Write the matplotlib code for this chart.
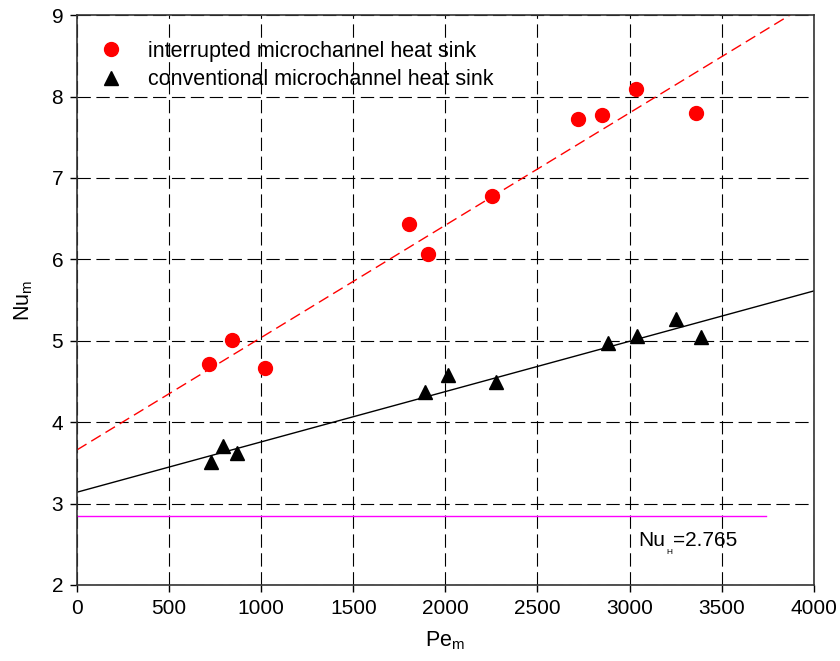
import numpy as np
import matplotlib.pyplot as plt

plt.rcParams['font.family'] = ['Liberation Sans', 'DejaVu Sans']

# interrupted microchannel heat sink
pe_int = [716, 841, 1020, 1802, 1905, 2252, 2719, 2849, 3034, 3360]
nu_int = [4.72, 5.01, 4.665, 6.43, 6.065, 6.78, 7.72, 7.78, 8.09, 7.80]

# conventional microchannel heat sink
pe_conv = [727, 792, 868, 1889, 2013, 2274, 2882, 3039, 3251, 3387]
nu_conv = [3.51, 3.71, 3.62, 4.37, 4.58, 4.49, 4.97, 5.06, 5.27, 5.05]

# fitted lines (intercept, slope)
fit_int = (3.66, 0.00138)
fit_conv = (3.14, 0.000618)

nu_h = 2.85
nu_h_end = 3740

fig = plt.figure(figsize=(8.4, 6.61), dpi=100)
ax = fig.add_axes([0.0917, 0.115, 0.877, 0.862])

xx = np.array([0, 4000])
ax.plot(xx, fit_int[0] + fit_int[1] * xx, color='red', lw=1.0, dashes=(8, 4))
ax.plot(xx, fit_conv[0] + fit_conv[1] * xx, color='black', lw=1.0)
ax.plot([0, nu_h_end], [nu_h, nu_h], color='#ff00ff', lw=1.0)

ax.plot(pe_int, nu_int, 'o', color='red', ms=10, mec='red',
        label='interrupted microchannel heat sink')
ax.plot(pe_conv, nu_conv, '^', color='black', ms=10,
        label='conventional microchannel heat sink')

ax.text(3050, 2.48, 'Nu', fontsize=15)
ax.text(3198, 2.38, 'H', fontsize=6)
ax.text(3235, 2.48, '=2.765', fontsize=15)

ax.set_xlim(0, 4000)
ax.set_ylim(2, 9)
ax.set_xticks(np.arange(0, 4001, 500))
ax.set_yticks(np.arange(2, 10, 1))
ax.grid(True, color='black', lw=0.8, dashes=(12, 5))
ax.tick_params(direction='out', length=5, width=1, labelsize=15, pad=5)
for s in ax.spines.values():
    s.set_linewidth(1.2)
    s.set_color('#333333')

ax.set_xlabel('Pe$_\\mathregular{m}$', fontsize=15.5, labelpad=8)
ax.set_ylabel('Nu$_\\mathregular{m}$', fontsize=15.5, labelpad=12)

ax.legend(loc='upper left', frameon=False, fontsize=15.5, handletextpad=0.72,
          borderaxespad=0, labelspacing=0.35, bbox_to_anchor=(0.0054, 0.9705))

fig.savefig('out.png', dpi=100)
